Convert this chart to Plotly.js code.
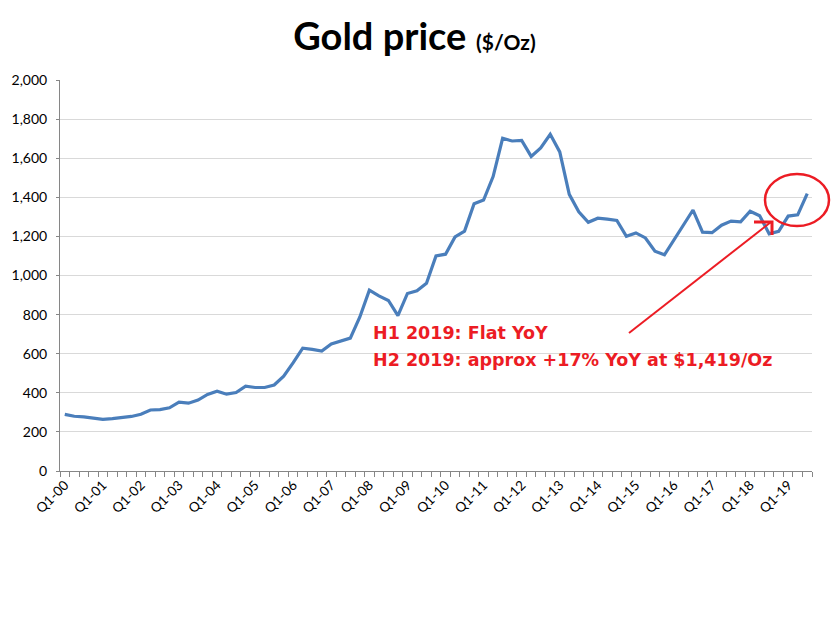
<!DOCTYPE html>
<html>
<head>
<meta charset="utf-8">
<script src="https://cdn.plot.ly/plotly-3.0.1.min.js"></script>
<style>
  html, body { margin: 0; padding: 0; background: #fff; }
  #chart { width: 834px; height: 617px; }
</style>
</head>
<body>
<div id="chart"></div>
<script>
// quarterly average gold price, Q1-00 .. Q3-19 ($/Oz)
const years = ["00","01","02","03","04","05","06","07","08","09",
               "10","11","12","13","14","15","16","17","18","19"];

const prices = [
  290, 280, 277, 269,      // 2000
  264, 268, 274, 279,      // 2001
  290, 312, 314, 323,      // 2002
  352, 347, 363, 392,      // 2003
  408, 393, 401, 434,      // 2004
  427, 427, 440, 485,      // 2005
  554, 628, 622, 614,      // 2006
  650, 667, 680, 788,      // 2007
  925, 896, 872, 795,      // 2008
  908, 922, 960, 1100,     // 2009
  1109, 1197, 1227, 1367,  // 2010
  1386, 1506, 1702, 1688,  // 2011
  1691, 1609, 1652, 1722,  // 2012
  1632, 1415, 1326, 1272,  // 2013
  1293, 1288, 1282, 1201,  // 2014
  1218, 1192, 1124, 1106,  // 2015
  1183, 1260, 1335, 1222,  // 2016
  1219, 1257, 1278, 1275,  // 2017
  1329, 1306, 1213, 1226,  // 2018
  1304, 1310, 1419         // 2019
];

const noteLines = [
  "H1 2019: Flat YoY",
  "H2 2019: approx +17% YoY at $1,419/Oz"
];

// build quarter labels
const quarters = [];
years.forEach(y => {
  for (let q = 1; q <= 4; q++) quarters.push("Q" + q + "-" + y);
});
const cats = quarters.slice(0, prices.length);
const idx = cats.map((c, i) => i);

// labels only on Q1; a tick between every quarter (minor ticks)
const labelPos = idx.filter(i => cats[i].startsWith("Q1"));
const labelText = labelPos.map(i => cats[i]);

const RED = "#ec1c24";

const trace = {
  x: idx,
  y: prices,
  text: cats,
  type: "scatter",
  mode: "lines",
  line: { color: "#4a7ebb", width: 3.2 },
  hoverinfo: "text+y"
};

// pixel helpers for decorations (plot area 60..812 x, 80..471 y)
const px = v => (v - 60) / 752;
const py = v => (471 - v) / 391;

const layout = {
  width: 834,
  height: 617,
  margin: { l: 60, r: 22, t: 80, b: 146 },
  paper_bgcolor: "#fff",
  plot_bgcolor: "#fff",
  showlegend: false,
  title: {
    text: "<b>Gold price</b> <span style='font-size:21px'><b>($/Oz)</b></span>",
    font: { family: "Lato, 'Open Sans', sans-serif", size: 38, color: "#000" },
    x: 0.497,
    xanchor: "center",
    yref: "container",
    y: 0.94,
    yanchor: "middle"
  },
  xaxis: {
    type: "linear",
    range: [-0.5, cats.length - 0.5],
    tickmode: "array",
    tickvals: labelPos,
    ticktext: labelText,
    ticks: "",
    tickangle: -45,
    tickfont: { family: "Lato, sans-serif", size: 13.5, color: "#000" },
    minor: {
      tickmode: "linear",
      tick0: -0.5,
      dtick: 1,
      ticks: "outside",
      ticklen: 5,
      tickcolor: "#868686",
      showgrid: false
    },
    showline: true,
    linecolor: "#868686",
    linewidth: 1,
    showgrid: false,
    zeroline: false
  },
  yaxis: {
    range: [0, 2000],
    dtick: 200,
    tickformat: ",d",
    ticks: "outside",
    ticklen: 3,
    tickcolor: "#868686",
    ticklabelstandoff: 6,
    tickfont: { family: "Lato, sans-serif", size: 14, color: "#000" },
    showline: true,
    linecolor: "#868686",
    linewidth: 1,
    showgrid: true,
    gridcolor: "#d9d9d9",
    gridwidth: 1,
    zeroline: false
  },
  annotations: [
    {
      text: noteLines[0],
      xref: "paper", yref: "paper",
      x: px(371), y: py(333),
      xanchor: "left", yanchor: "middle",
      showarrow: false,
      font: { family: "'DejaVu Sans', sans-serif", size: 17.5, weight: "bold", color: RED }
    },
    {
      text: noteLines[1],
      xref: "paper", yref: "paper",
      x: px(371), y: py(360),
      xanchor: "left", yanchor: "middle",
      showarrow: false,
      font: { family: "'DejaVu Sans', sans-serif", size: 17.5, weight: "bold", color: RED }
    }
  ],
  shapes: [
    // arrow shaft
    {
      type: "line", xref: "paper", yref: "paper",
      x0: px(629), y0: py(333), x1: px(771), y1: py(222),
      line: { color: RED, width: 2 }
    },
    // arrow head (open corner)
    {
      type: "path", xref: "paper", yref: "paper",
      path: "M " + px(754) + "," + py(222) + " L " + px(772) + "," + py(222) +
            " L " + px(772) + "," + py(235),
      line: { color: RED, width: 3 }
    },
    // circle round the latest quarter
    {
      type: "circle", xref: "paper", yref: "paper",
      x0: px(765), y0: py(226), x1: px(829), y1: py(174),
      line: { color: RED, width: 2.5 }
    }
  ]
};

Plotly.newPlot("chart", [trace], layout, { displayModeBar: false, staticPlot: true });
</script>
</body>
</html>
